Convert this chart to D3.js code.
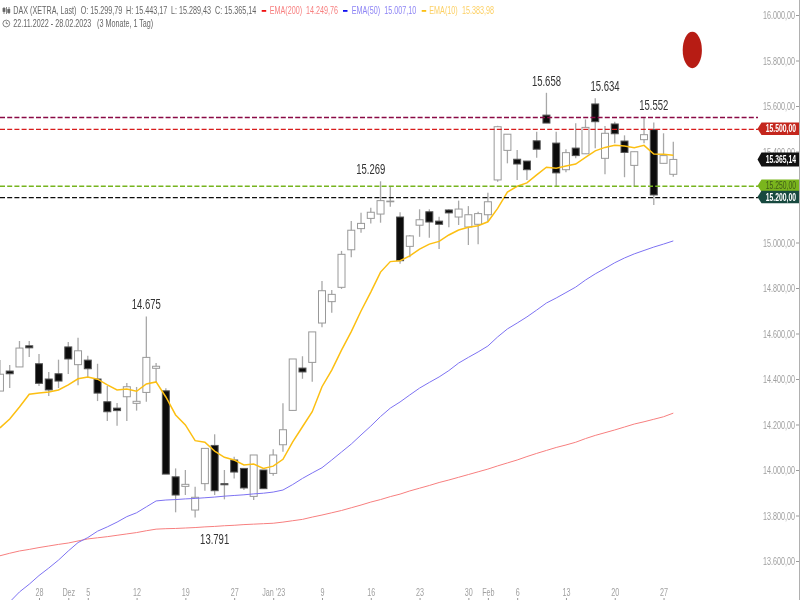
<!DOCTYPE html>
<html>
<head>
<meta charset="utf-8">
<script src="https://cdnjs.cloudflare.com/ajax/libs/d3/7.8.5/d3.min.js"></script>
<style>
  html, body { margin: 0; padding: 0; background: #fff; }
  svg { display: block; font-family: "Liberation Sans", Arial, sans-serif; filter: blur(0.35px); }
</style>
</head>
<body>
<div id="chart"></div>
<script>
// daily candles, 22.11.2022 - 28.02.2023
var opens = [14347,14435,14453,14546,14467,14400,14423,14541,14463,14483,14400,14300,14272,14322,14293,14341,14447,14348,13970,13928,13824,13940,14108,13940,14044,14007,13884,14000,13985,14111,14262,14448,14473,14646,14740,14803,14968,15061,15106,15125,15179,15112,14983,15076,15135,15094,15143,15112,15068,15080,15122,15275,15405,15366,15358,15447,15560,15437,15320,15415,15390,15609,15370,15521,15446,15339,15452,15496,15348,15299.79];
var highs = [14483,14461,14567,14567,14510,14431,14485,14563,14581,14502,14467,14369,14294,14382,14365,14675,14470,14359,14007,14000,13926,14095,14157,14000,14058,14007,14066,14000,14091,14293,14488,14500,14607,14831,14791,14963,15094,15131,15153,15269,15248,15133,15033,15146,15146,15113,15146,15184,15160,15135,15219,15513,15476,15407,15358,15487,15658,15487,15410,15524,15541,15634,15512,15531,15471,15399,15552,15528,15480,15443.17];
var lows = [14347,14360,14453,14497,14369,14325,14360,14422,14373,14404,14303,14215,14195,14215,14261,14300,14382,13982,13814,13890,13791,13909,13890,13871,13963,13912,13868,13918,13975,14080,14262,14401,14388,14627,14691,14796,14935,15043,15084,15087,15157,14907,14935,15025,15021,14971,15067,15077,14989,14992,15091,15267,15348,15275,15275,15373,15525,15248,15309,15370,15390,15414,15300,15436,15287,15248,15436,15165,15348,15289.43];
var closes = [14421,14423,14536,14537,14381,14352,14391,14488,14524,14445,14338,14256,14261,14366,14302,14495,14456,13982,13890,13937,13880,14095,13909,13935,13991,13921,14066,13918,14066,14177,14488,14431,14607,14788,14772,14948,15054,15084,15133,15184,15182,14920,15029,15100,15090,15080,15130,15147,15122,15127,15179,15509,15476,15345,15320,15410,15525,15306,15395,15382,15506,15531,15480,15478,15396,15399,15474,15209,15382,15365.14];

var ema10 = [14185,14224,14277,14333,14338,14343,14352,14374,14401,14409,14399,14374,14352,14356,14346,14378,14387,14321,14242,14198,14129,14122,14083,14056,14044,14022,14026,14007,14017,14047,14124,14190,14256,14366,14439,14527,14608,14699,14782,14870,14916,14920,14941,14971,14993,15005,15033,15055,15067,15074,15091,15150,15222,15247,15262,15297,15331,15326,15336,15345,15374,15403,15418,15427,15424,15417,15427,15389,15388,15384];
var ema50 = [13376,13420,13464,13498,13536,13569,13604,13644,13681,13703,13731,13750,13771,13795,13812,13838,13864,13868,13870,13873,13875,13878,13881,13885,13888,13891,13895,13898,13903,13912,13936,13963,13987,14010,14044,14079,14114,14154,14193,14235,14272,14299,14330,14360,14385,14409,14437,14470,14495,14519,14545,14585,14620,14646,14673,14703,14734,14756,14780,14804,14835,14862,14886,14911,14932,14950,14965,14980,14993,15007];
var ema200 = [13623,13634,13644,13651,13659,13666,13673,13679,13688,13697,13702,13707,13713,13719,13725,13733,13740,13742,13743,13745,13747,13750,13752,13755,13757,13760,13762,13764,13766,13771,13777,13783,13793,13802,13812,13822,13834,13846,13859,13870,13883,13894,13908,13920,13932,13945,13956,13968,13980,13992,14004,14018,14031,14044,14059,14073,14086,14099,14110,14122,14138,14152,14164,14176,14189,14202,14212,14223,14234,14250];

var priceTicks = [16000,15800,15600,15400,15200,15000,14800,14600,14400,14200,14000,13800,13600];
var dayTicks = [4,7,9,14,19,24,28,33,38,43,48,50,53,58,63,68];
var dayLabels = ["28","Dez","5","12","19","27","Jan '23","9","16","23","30","Feb","6","13","20","27"];

var levels = [15552,15500,15250,15200];
var levelColors = ["#8a0a45","#d81c1c","#76b41e","#0d0d0d"];

var tagValues = [15500,15365.14,15250,15200];
var tagLabels = ["15.500,00","15.365,14","15.250,00","15.200,00"];
var tagFills = ["#c4261d","#111111","#7ab51d","#17493f"];
var tagInks = ["#ffffff","#ffffff","#3f5a18","#ffffff"];

// day each callout sits over, they were placed by hand in the original
var calloutDays = [15,22,38,56,62,67];
var calloutPrices = [14675,13791,15269,15658,15634,15552];
var calloutLabels = ["14.675","13.791","15.269","15.658","15.634","15.552"];
var calloutBelow = [false,true,false,false,false,false];

var w = 800, h = 600;
var squeeze = 0.72;

var x = d3.scaleLinear().domain([0, 69]).range([-0.04, 673.3]);
var y = d3.scaleLinear().domain([16000, 13600]).range([15, 561]);

var svg = d3.select("#chart").append("svg")
  .attr("width", w)
  .attr("height", h)
  .attr("viewBox", "0 0 800 600");

// price axis
var yAxis = svg.append("g")
  .attr("transform", "translate(799,0)")
  .call(d3.axisLeft(y).tickValues(priceTicks).tickSize(3).tickSizeOuter(0)
    .tickFormat(function(d) { return d3.format(",")(d).replace(",", ".") + ",00"; }));
yAxis.select(".domain").remove();
yAxis.selectAll("line").attr("stroke", "#999");
yAxis.selectAll("text")
  .attr("x", 0)
  .attr("dy", "0.35em")
  .attr("font-size", 10)
  .attr("fill", "#a0a0a0")
  .attr("transform", "translate(-4,0) scale(" + squeeze + ",1)");
// this one is fully covered by its price tag
yAxis.selectAll("text").filter(function(d) { return d === 15200; }).remove();
svg.append("line").attr("x1", 799.5).attr("x2", 799.5).attr("y1", 0).attr("y2", h)
  .attr("stroke", "#b0b0b0");

// time axis
var xAxis = svg.append("g")
  .attr("transform", "translate(0,600)")
  .call(d3.axisTop(x).tickValues(dayTicks).tickSize(2).tickSizeOuter(0)
    .tickFormat(function(d, i) { return dayLabels[i]; }));
xAxis.select(".domain").remove();
xAxis.selectAll("line").attr("stroke", "#999");
xAxis.selectAll("text")
  .attr("y", 0)
  .attr("dy", 0)
  .attr("font-size", 10)
  .attr("fill", "#a0a0a0")
  .attr("transform", "translate(0,-4.5) scale(" + squeeze + ",1)");

// candles
var days = d3.range(opens.length);
var candle = svg.append("g").selectAll("g").data(days).enter().append("g");
candle.append("line")
  .attr("x1", function(i) { return x(i); })
  .attr("x2", function(i) { return x(i); })
  .attr("y1", function(i) { return y(highs[i]); })
  .attr("y2", function(i) { return y(lows[i]); })
  .attr("stroke", "#a8a8a8")
  .attr("stroke-width", 1.3);
candle.append("rect")
  .attr("x", function(i) { return x(i) - 3.5; })
  .attr("width", 7)
  .attr("y", function(i) { return y(Math.max(opens[i], closes[i])); })
  .attr("height", function(i) { return Math.abs(y(opens[i]) - y(closes[i])); })
  .attr("fill", function(i) { return closes[i] >= opens[i] ? "#fff" : "#0c0c0c"; })
  .attr("stroke", function(i) { return closes[i] >= opens[i] ? "#999" : "#555"; })
  .attr("stroke-width", 1);

// moving averages
var line = d3.line().x(function(d, i) { return x(i); }).y(function(d) { return y(d); });
svg.append("path").datum(ema200).attr("d", line).attr("fill", "none").attr("stroke", "#f77f7f").attr("stroke-width", 1);
svg.append("path").datum(ema50).attr("d", line).attr("fill", "none").attr("stroke", "#7d72f2").attr("stroke-width", 1);
svg.append("path").datum(ema10).attr("d", line).attr("fill", "none").attr("stroke", "#fcbf12").attr("stroke-width", 1.5);

// horizontal levels
svg.append("g").selectAll("line").data(levels).enter().append("line")
  .attr("x1", 0)
  .attr("x2", 758)
  .attr("y1", function(d) { return y(d) + 0.6; })
  .attr("y2", function(d) { return y(d) + 0.6; })
  .attr("stroke", function(d, i) { return levelColors[i]; })
  .attr("stroke-width", 1.4)
  .attr("stroke-dasharray", "5 2.2");

// value callouts
svg.append("g").selectAll("text").data(calloutDays).enter().append("text")
  .attr("text-anchor", "middle")
  .attr("font-size", 14)
  .attr("fill", "#333")
  .attr("transform", function(d, i) {
    var off = calloutBelow[i] ? 26 : -7;
    return "translate(" + x(d) + "," + (y(calloutPrices[i]) + off) + ") scale(0.68,1)";
  })
  .text(function(d, i) { return calloutLabels[i]; });

// price tags on the right edge
var tag = svg.append("g").selectAll("g").data(tagValues).enter().append("g")
  .attr("transform", function(d) { return "translate(0," + y(d) + ")"; });
tag.append("path")
  .attr("d", function(d, i) {
    var hh = i === 1 ? 7 : 6.2;
    return "M757.5,0L761.5," + (-hh) + "H799V" + hh + "H761.5Z";
  })
  .attr("fill", function(d, i) { return tagFills[i]; });
tag.append("text")
  .attr("dy", "0.35em")
  .attr("font-size", 10)
  .attr("font-weight", function(d, i) { return i === 2 ? "normal" : "bold"; })
  .attr("fill", function(d, i) { return tagInks[i]; })
  .attr("text-anchor", "end")
  .attr("transform", "translate(796,0) scale(0.68,1)")
  .text(function(d, i) { return tagLabels[i]; });

// red marker
svg.append("ellipse")
  .attr("cx", 692.3).attr("cy", 50)
  .attr("rx", 9.6).attr("ry", 18.2)
  .attr("fill", "#b71c14");

// header
var headerTexts = [
  ["DAX (XETRA, Last)", 13.3, "#666"],
  ["O: 15.299,79", 80.7, "#666"],
  ["H: 15.443,17", 126, "#666"],
  ["L: 15.289,43", 171, "#666"],
  ["C: 15.365,14", 215, "#666"],
  ["EMA(200)", 269.7, "#f77f7f"],
  ["14.249,76", 306, "#f77f7f"],
  ["EMA(50)", 351.7, "#8d84f5"],
  ["15.007,10", 384.3, "#8d84f5"],
  ["EMA(10)", 429.3, "#fcd064"],
  ["15.383,98", 462, "#fcd064"]
];
svg.append("g").selectAll("text").data(headerTexts).enter().append("text")
  .attr("font-size", 10)
  .attr("fill", function(d) { return d[2]; })
  .attr("transform", function(d) { return "translate(" + d[1] + ",14) scale(" + squeeze + ",1)"; })
  .text(function(d) { return d[0]; });

svg.append("text").attr("font-size", 10).attr("fill", "#666")
  .attr("transform", "translate(13.3,27) scale(" + squeeze + ",1)")
  .text("22.11.2022 - 28.02.2023");
svg.append("text").attr("font-size", 10).attr("fill", "#666")
  .attr("transform", "translate(97,27) scale(" + squeeze + ",1)")
  .text("(3 Monate, 1 Tag)");

var legendDashes = [[261.7, "#f01010"], [343, "#1010f0"], [421.7, "#fcbf12"]];
svg.append("g").selectAll("rect").data(legendDashes).enter().append("rect")
  .attr("x", function(d) { return d[0]; })
  .attr("y", 10)
  .attr("width", 4.5)
  .attr("height", 1.8)
  .attr("fill", function(d) { return d[1]; });

// small icons
var icon = svg.append("g").attr("stroke", "#666").attr("fill", "none").attr("stroke-width", 0.8);
icon.append("path").attr("d", "M4,7V14M6.5,7V14M9,7V14");
icon.append("rect").attr("x", 3).attr("y", 8.5).attr("width", 2).attr("height", 3).attr("fill", "#666");
icon.append("rect").attr("x", 7.8).attr("y", 9.5).attr("width", 2).attr("height", 3).attr("fill", "#666");
icon.append("circle").attr("cx", 6.3).attr("cy", 23.5).attr("r", 3.4);
icon.append("path").attr("d", "M6.3,21.5V23.7H8");
</script>
</body>
</html>
